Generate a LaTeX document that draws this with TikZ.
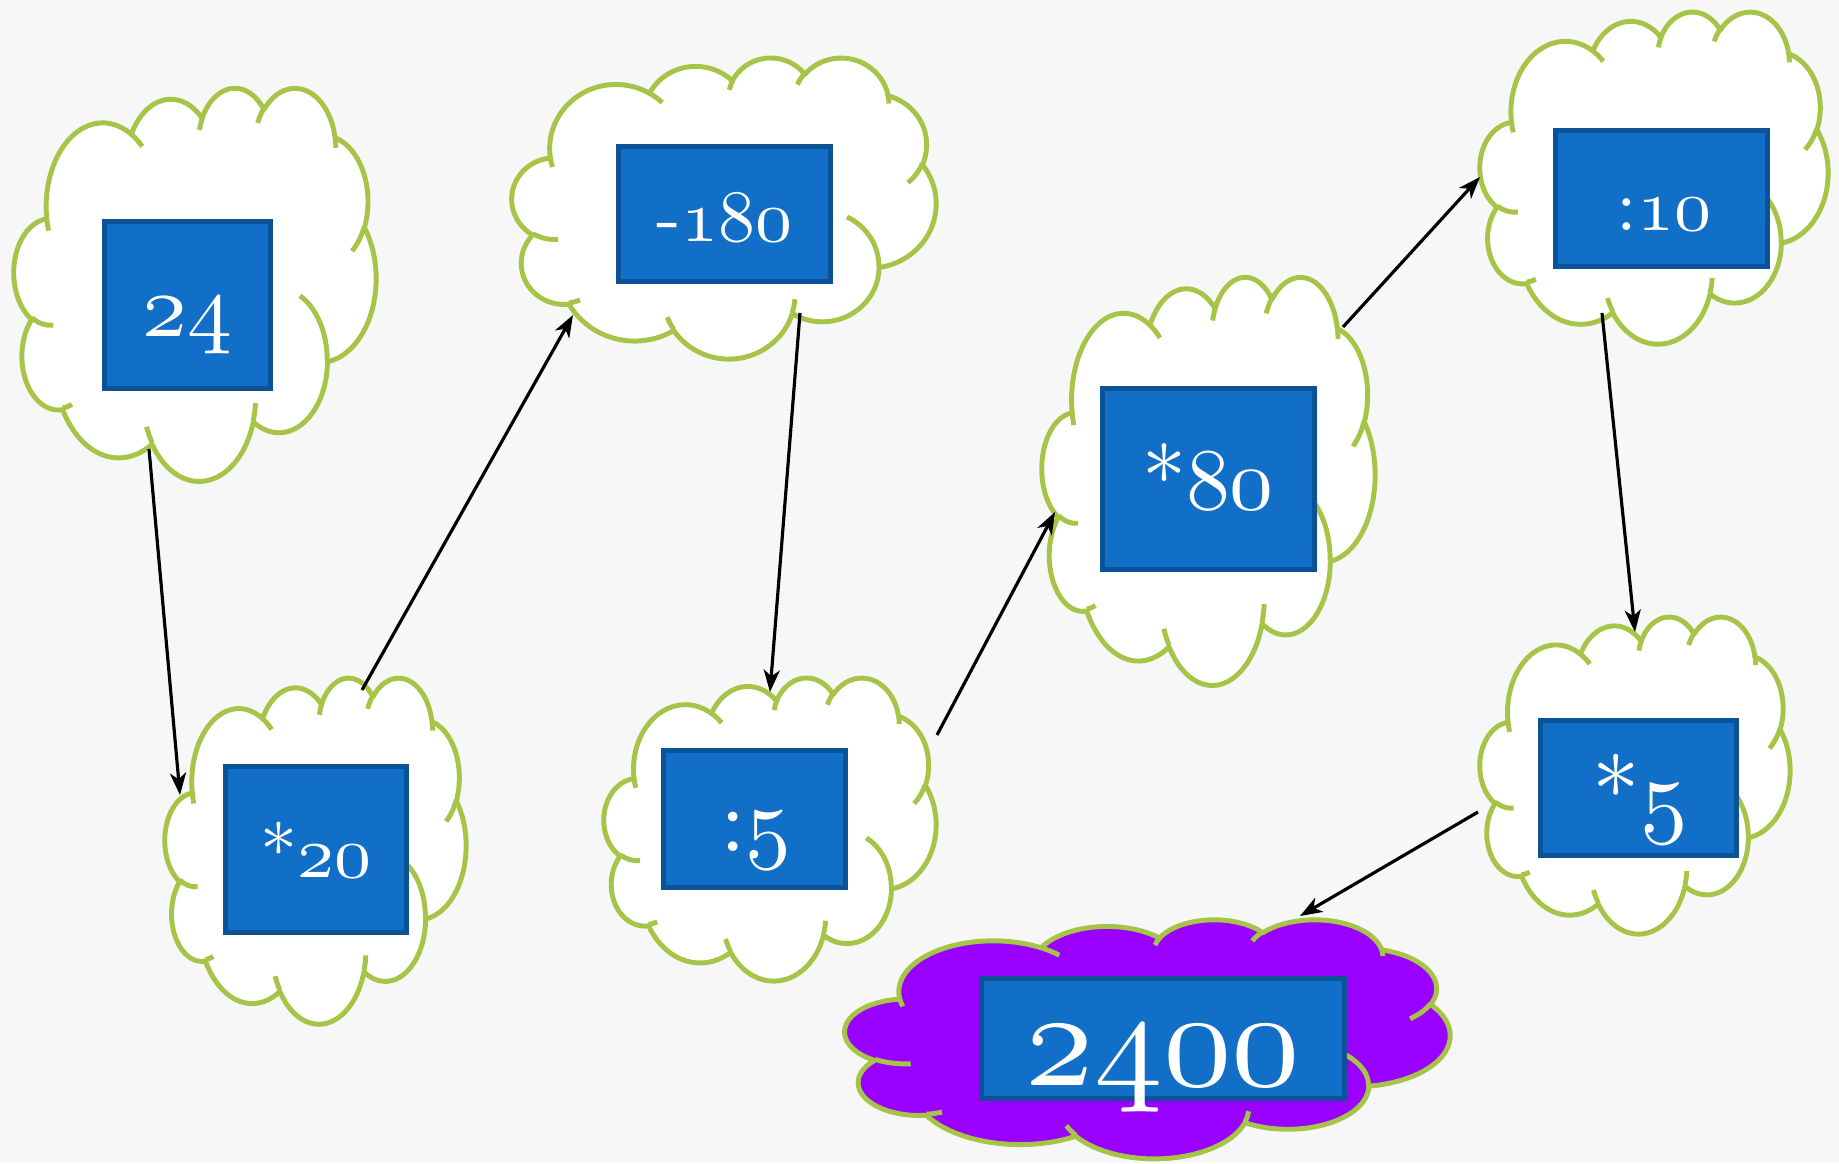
\documentclass[tikz,border=0pt]{standalone}
\usetikzlibrary{arrows.meta}

\definecolor{paper}{RGB}{247,247,247}
\definecolor{cloudedge}{RGB}{166,196,72}
\definecolor{boxblue}{RGB}{17,111,199}
\definecolor{boxedge}{RGB}{11,82,150}
\definecolor{grape}{RGB}{153,0,255}

% Parametric start angle and sweep of one cloud arc, given its radii and
% its start/sweep as true (geometric) angles.  #1 tag, #2 rx, #3 ry, #4 start, #5 sweep
\newcommand\cloudarcset[5]{%
  \pgfmathsetmacro\cldtmpa{atan2((#2)*sin(#4),(#3)*cos(#4))}%
  \pgfmathsetmacro\cldtmpb{atan2((#2)*sin((#4)+(#5)),(#3)*cos((#4)+(#5)))}%
  \pgfmathsetmacro\cldtmpc{mod(\cldtmpb-\cldtmpa+720,360)}%
  \expandafter\xdef\csname cld#1s\endcsname{\cldtmpa}%
  \expandafter\xdef\csname cld#1d\endcsname{\cldtmpc}%
}
% outline of the cloud (grid of 43.2 x 43.2 units)
\cloudarcset{A}{6.753}{9.190}{-190.48748}{123.78053}
\cloudarcset{B}{5.333}{7.267}{-144.10238}{89.94523}
\cloudarcset{C}{4.365}{5.945}{-145.80792}{99.72302}
\cloudarcset{D}{4.857}{6.595}{-130.98607}{117.24173}
\cloudarcset{E}{5.333}{7.273}{-78.70888}{109.02692}
\cloudarcset{F}{6.775}{9.220}{-46.26725}{130.26900}
\cloudarcset{G}{5.785}{7.867}{0.62502}{114.03333}
\cloudarcset{H}{6.752}{9.215}{22.45160}{115.17255}
\cloudarcset{I}{7.720}{10.543}{66.24263}{75.71102}
\cloudarcset{J}{4.360}{5.918}{-274.94208}{146.73557}
\cloudarcset{K}{4.345}{5.945}{-246.82850}{152.51885}
% inner creases
\cloudarcset{a}{4.345}{5.945}{86.74200}{26.42950}
\cloudarcset{b}{4.360}{5.918}{73.61047}{11.44747}
\cloudarcset{c}{6.752}{9.215}{137.62415}{14.08110}
\cloudarcset{d}{6.752}{9.215}{6.45327}{15.99835}
\cloudarcset{e}{5.785}{7.867}{-70.29235}{70.91737}
\cloudarcset{f}{5.333}{7.273}{30.31803}{27.75150}
\cloudarcset{g}{4.857}{6.595}{-13.74433}{14.85890}
\cloudarcset{h}{4.857}{6.595}{-149.18145}{18.19537}
\cloudarcset{i}{4.365}{5.945}{-163.49427}{17.68635}
\cloudarcset{j}{6.753}{9.190}{-66.70695}{12.31935}
\cloudarcset{k}{6.753}{9.190}{157.65435}{11.85817}

% cloud in the box with top-left corner (#1,#2), size #3 x #4, filled with #5
\newcommand\drawcloud[5]{%
  \begin{scope}[shift={(#1,#2)},xscale=#3/43.2,yscale=#4/43.2]
    \filldraw[cloudline,fill=#5] (3.900,14.370)
      arc[x radius=6.753,y radius=9.190,start angle=\cldAs,delta angle=\cldAd]
      arc[x radius=5.333,y radius=7.267,start angle=\cldBs,delta angle=\cldBd]
      arc[x radius=4.365,y radius=5.945,start angle=\cldCs,delta angle=\cldCd]
      arc[x radius=4.857,y radius=6.595,start angle=\cldDs,delta angle=\cldDd]
      arc[x radius=5.333,y radius=7.273,start angle=\cldEs,delta angle=\cldEd]
      arc[x radius=6.775,y radius=9.220,start angle=\cldFs,delta angle=\cldFd]
      arc[x radius=5.785,y radius=7.867,start angle=\cldGs,delta angle=\cldGd]
      arc[x radius=6.752,y radius=9.215,start angle=\cldHs,delta angle=\cldHd]
      arc[x radius=7.720,y radius=10.543,start angle=\cldIs,delta angle=\cldId]
      arc[x radius=4.360,y radius=5.918,start angle=\cldJs,delta angle=\cldJd]
      arc[x radius=4.345,y radius=5.945,start angle=\cldKs,delta angle=\cldKd]
      -- cycle;
    \draw[cloudline]
      (4.693,26.177) arc[x radius=4.345,y radius=5.945,start angle=\cldas,delta angle=\cldad]
      (6.928,34.899) arc[x radius=4.360,y radius=5.918,start angle=\cldbs,delta angle=\cldbd]
      (16.478,39.090) arc[x radius=6.752,y radius=9.215,start angle=\cldcs,delta angle=\cldcd]
      (28.827,34.751) arc[x radius=6.752,y radius=9.215,start angle=\cldds,delta angle=\clddd]
      (34.129,22.954) arc[x radius=5.785,y radius=7.867,start angle=\cldes,delta angle=\clded]
      (41.798,15.354) arc[x radius=5.333,y radius=7.273,start angle=\cldfs,delta angle=\cldfd]
      (38.324,5.426) arc[x radius=4.857,y radius=6.595,start angle=\cldgs,delta angle=\cldgd]
      (29.078,3.952) arc[x radius=4.857,y radius=6.595,start angle=\cldhs,delta angle=\cldhd]
      (22.141,4.720) arc[x radius=4.365,y radius=5.945,start angle=\cldis,delta angle=\cldid]
      (14.000,5.192) arc[x radius=6.753,y radius=9.190,start angle=\cldjs,delta angle=\cldjd]
      (4.127,15.789) arc[x radius=6.753,y radius=9.190,start angle=\cldks,delta angle=\cldkd];
  \end{scope}}

% old-style figures from the math italic font
\newcommand\osn[1]{{\usefont{OML}{cmm}{m}{it}#1}}
% label text at 10pt, enlarged by the factor #1
\newcommand\biglabel[2]{\scalebox{#1}{\fontsize{10}{12}\selectfont #2}}

\begin{document}
\begin{tikzpicture}[
  x=0.01cm, y=-0.01cm,
  cloudline/.style={draw=cloudedge, line width=1.4pt, line join=round},
  numbox/.style={rectangle, draw=boxedge, fill=boxblue, line width=1.4pt, inner sep=0pt},
  numtext/.style={text=white, inner sep=0pt, anchor=base},
  flow/.style={draw=black, line width=0.9pt, -{Stealth[length=6.3pt,width=4.6pt,inset=1.8pt]}}
]
\useasboundingbox (0,0) rectangle (1839,1163);
\fill[paper] (0,0) rectangle (1839,1163);

% clouds
\drawcloud{14}{87}{362}{393}{white}
\drawcloud{512}{57}{424}{301}{white}
\drawcloud{165}{677}{301}{346}{white}
\drawcloud{604}{677}{332}{303}{white}
\drawcloud{1042}{276}{333}{408}{white}
\drawcloud{1480}{11}{348}{332}{white}
\drawcloud{1480}{616}{310}{317}{white}
\drawcloud{845}{919}{605}{239}{grape}

% number boxes
\node[numbox, minimum width=1.66cm, minimum height=1.67cm] (b24)   at (187.5,305)   {};
\node[numbox, minimum width=2.12cm, minimum height=1.35cm] (b180)  at (724.5,214)   {};
\node[numbox, minimum width=1.81cm, minimum height=1.66cm] (b20)   at (316,849.5)   {};
\node[numbox, minimum width=1.82cm, minimum height=1.37cm] (b5a)   at (754.5,819)   {};
\node[numbox, minimum width=2.12cm, minimum height=1.81cm] (b80)   at (1208.5,479)  {};
\node[numbox, minimum width=2.12cm, minimum height=1.36cm] (b10)   at (1661.5,198.5){};
\node[numbox, minimum width=1.96cm, minimum height=1.35cm] (b5m)   at (1638.5,788)  {};
\node[numbox, minimum width=3.63cm, minimum height=1.20cm] (b2400) at (1163,1038.5) {};

% labels, placed on their baselines
\node[numtext] (t24)   at (187.5,336)  {\biglabel{2.55}{\osn{24}}};
\node[numtext] (t180)  at (724.5,241)  {\biglabel{2.1}{-\osn{180}}};
\node[numtext] (t20)   at (316,877)    {\biglabel{2.1}{*\osn{20}}};
\node[numtext] (t5a)   at (756,851)    {\biglabel{2.6}{:\osn{5}}};
\node[numtext] (t80)   at (1208,509)   {\biglabel{2.5}{*\osn{80}}};
\node[numtext] (t10)   at (1664,230)   {\biglabel{2.1}{:\osn{10}}};
\node[numtext] (t5m)   at (1640,825)   {\biglabel{2.7}{*\osn{5}}};
\node[numtext] (t2400) at (1163,1085)  {\biglabel{3.9}{\osn{2400}}};

% ends of the connectors on the cloud rims
\coordinate (c1o) at (149,449);
\coordinate (c3i) at (180,795);
\coordinate (c3o) at (362,690);
\coordinate (c2i) at (573,315);
\coordinate (c2o) at (800,313);
\coordinate (c4i) at (770,692);
\coordinate (c4o) at (937,735);
\coordinate (c5i) at (1055,512);
\coordinate (c5o) at (1343,327);
\coordinate (c6i) at (1480,177);
\coordinate (c6o) at (1602,313);
\coordinate (c7i) at (1635,632);
\coordinate (c7o) at (1478,812);
\coordinate (c8i) at (1300,916);

\draw[flow] (c1o) -- (c3i);
\draw[flow] (c3o) -- (c2i);
\draw[flow] (c2o) -- (c4i);
\draw[flow] (c4o) -- (c5i);
\draw[flow] (c5o) -- (c6i);
\draw[flow] (c6o) -- (c7i);
\draw[flow] (c7o) -- (c8i);
\end{tikzpicture}
\end{document}
